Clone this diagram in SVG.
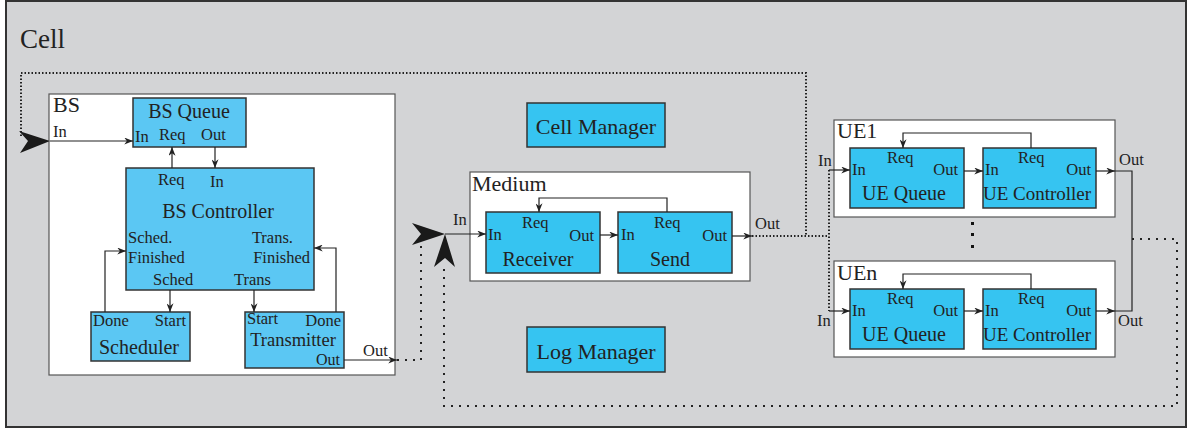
<svg xmlns="http://www.w3.org/2000/svg" width="1188" height="429" viewBox="0 0 1188 429">
<defs>
<style>
text{font-family:"Liberation Serif","Times New Roman",serif;fill:#222}
.p{font-size:16.5px}
.t{font-size:20px}
.big{font-size:22px}
.frame{fill:#fff;stroke:#555;stroke-width:1.2}
.lb{fill:#5bc7f3;stroke:#333;stroke-width:1.5}
.db{fill:#36c4f1;stroke:#333;stroke-width:1.5}
.ln{fill:none;stroke:#222;stroke-width:1.2}
.dd{fill:none;stroke:#222;stroke-width:2;stroke-dasharray:1.5 2}
.ds{fill:none;stroke:#222;stroke-width:2;stroke-dasharray:2 6}
.ah{fill:#1a1a1a}
</style>
<marker id="a" viewBox="0 0 10 8" refX="10" refY="4" markerWidth="10" markerHeight="7" orient="auto" markerUnits="userSpaceOnUse"><path d="M0,0 L10,4 L0,8 L3,4 z" fill="#222"/></marker>
</defs>
<rect x="6" y="1" width="1180" height="426" fill="#d3d4d6" stroke="#333" stroke-width="2"/>
<text x="20" y="48" style="font-size:27px">Cell</text>

<g id="BS">
<rect class="frame" x="49" y="94" width="346" height="281"/>
<text class="big" x="53" y="112">BS</text>
<text class="p" x="53" y="137">In</text>
<text class="p" x="363" y="356">Out</text>
</g>
<g id="BSQueue">
<rect class="lb" x="133" y="98" width="113" height="49"/>
<text class="t" x="189" y="118" text-anchor="middle">BS Queue</text>
<text class="p" x="135" y="142">In</text>
<text class="p" x="159" y="140">Req</text>
<text class="p" x="201" y="140">Out</text>
</g>
<g id="BSController">
<rect class="lb" x="126" y="168" width="188" height="122"/>
<text class="p" x="158" y="185">Req</text>
<text class="p" x="210" y="187">In</text>
<text class="t" x="218" y="218" text-anchor="middle">BS Controller</text>
<text class="p" x="128" y="243">Sched.</text>
<text class="p" x="128" y="263">Finished</text>
<text class="p" x="293" y="243" text-anchor="end">Trans.</text>
<text class="p" x="310" y="263" text-anchor="end">Finished</text>
<text class="p" x="153" y="285">Sched</text>
<text class="p" x="234" y="285">Trans</text>
</g>
<g id="Scheduler">
<rect class="lb" x="91" y="312" width="99" height="49"/>
<text class="p" x="93" y="326">Done</text>
<text class="p" x="186" y="326" text-anchor="end">Start</text>
<text class="t" x="139" y="354" text-anchor="middle">Scheduler</text>
</g>
<g id="Transmitter">
<rect class="lb" x="245" y="312" width="99" height="56"/>
<text class="p" x="247" y="324">Start</text>
<text class="p" x="341" y="326" text-anchor="end">Done</text>
<text class="t" x="293" y="346" text-anchor="middle" style="font-size:18.5px">Transmitter</text>
<text class="p" x="340" y="365" text-anchor="end" style="font-size:16px">Out</text>
</g>

<g id="CellManager">
<rect class="db" x="527" y="103" width="138" height="44"/>
<text class="big" x="596" y="134" text-anchor="middle">Cell Manager</text>
</g>
<g id="LogManager">
<rect class="db" x="527" y="327" width="138" height="45"/>
<text class="big" x="596" y="359" text-anchor="middle">Log Manager</text>
</g>

<g id="Medium">
<rect class="frame" x="470" y="172" width="280" height="109"/>
<text class="big" x="472" y="191">Medium</text>
<text class="p" x="453" y="225">In</text>
<text class="p" x="755" y="229">Out</text>
</g>
<g id="Receiver">
<rect class="db" x="486" y="212" width="114" height="61"/>
<text class="p" x="488" y="240">In</text>
<text class="p" x="522" y="228">Req</text>
<text class="p" x="594" y="241" text-anchor="end">Out</text>
<text class="t" x="538" y="266" text-anchor="middle">Receiver</text>
</g>
<g id="Send">
<rect class="db" x="618" y="212" width="114" height="61"/>
<text class="p" x="621" y="240">In</text>
<text class="p" x="654" y="228">Req</text>
<text class="p" x="727" y="241" text-anchor="end">Out</text>
<text class="t" x="670" y="266" text-anchor="middle">Send</text>
</g>

<g id="UE1">
<rect class="frame" x="834" y="120" width="281" height="97"/>
<text class="big" x="837" y="138">UE1</text>
<text class="p" x="818" y="166">In</text>
<text class="p" x="1119" y="165">Out</text>
</g>
<g id="UE1Queue">
<rect class="db" x="850" y="148" width="114" height="60"/>
<text class="p" x="852" y="175">In</text>
<text class="p" x="887" y="163">Req</text>
<text class="p" x="958" y="175" text-anchor="end">Out</text>
<text class="t" x="904" y="200" text-anchor="middle">UE Queue</text>
</g>
<g id="UE1Controller">
<rect class="db" x="983" y="148" width="113" height="60"/>
<text class="p" x="985" y="175">In</text>
<text class="p" x="1018" y="163">Req</text>
<text class="p" x="1091" y="175" text-anchor="end">Out</text>
<text class="t" x="1037" y="200" text-anchor="middle" style="font-size:19px">UE Controller</text>
</g>

<g id="Ellipsis">
<rect x="971" y="222" width="3" height="3" fill="#111"/>
<rect x="971" y="233" width="3" height="3" fill="#111"/>
<rect x="971" y="245" width="3" height="3" fill="#111"/>
</g>

<g id="UEn">
<rect class="frame" x="834" y="261" width="281" height="96"/>
<text class="big" x="837" y="280">UEn</text>
<text class="p" x="817" y="326">In</text>
<text class="p" x="1118" y="326">Out</text>
</g>
<g id="UEnQueue">
<rect class="db" x="850" y="289" width="114" height="60"/>
<text class="p" x="852" y="316">In</text>
<text class="p" x="887" y="304">Req</text>
<text class="p" x="958" y="316" text-anchor="end">Out</text>
<text class="t" x="904" y="341" text-anchor="middle">UE Queue</text>
</g>
<g id="UEnController">
<rect class="db" x="983" y="289" width="113" height="60"/>
<text class="p" x="985" y="316">In</text>
<text class="p" x="1018" y="304">Req</text>
<text class="p" x="1091" y="316" text-anchor="end">Out</text>
<text class="t" x="1037" y="341" text-anchor="middle" style="font-size:19px">UE Controller</text>
</g>

<g id="connectors">
<path class="dd" d="M21,136 V73 H806 V236"/>
<path class="dd" d="M752,236 H829"/>
<path class="dd" d="M829,170 V311"/>
<path class="ds" d="M397,360 H421 V245"/>
<path class="ds" d="M1132,239 H1177 V406 H444 V268"/>

<path class="ln" d="M50,141 H133" marker-end="url(#a)"/>
<path class="ln" d="M172,168 V147" marker-end="url(#a)"/>
<path class="ln" d="M215,147 V168" marker-end="url(#a)"/>
<path class="ln" d="M170,290 V312" marker-end="url(#a)"/>
<path class="ln" d="M254,290 V312" marker-end="url(#a)"/>
<path class="ln" d="M105,312 V251 H126" marker-end="url(#a)"/>
<path class="ln" d="M336,312 V248 H314" marker-end="url(#a)"/>
<path class="ln" d="M344,360 H397" marker-end="url(#a)"/>

<path class="ln" d="M445,234 H486" marker-end="url(#a)"/>
<path class="ln" d="M600,235 H618" marker-end="url(#a)"/>
<path class="ln" d="M667,212 V198 H539 V212" marker-end="url(#a)"/>
<path class="ln" d="M732,236 H752" marker-end="url(#a)"/>

<path class="ln" d="M829,170 H850" marker-end="url(#a)"/>
<path class="ln" d="M964,171 H983" marker-end="url(#a)"/>
<path class="ln" d="M1031,148 V133 H903 V148" marker-end="url(#a)"/>
<path class="ln" d="M1096,171 H1115" marker-end="url(#a)"/>
<path class="ln" d="M829,311 H850" marker-end="url(#a)"/>
<path class="ln" d="M964,311 H983" marker-end="url(#a)"/>
<path class="ln" d="M1031,289 V274 H903 V289" marker-end="url(#a)"/>
<path class="ln" d="M1096,311 H1115" marker-end="url(#a)"/>
<path class="ln" d="M1115,171 H1132 V311 H1115"/>

<polygon class="ah" points="50,141 19,131 28,141 20,153"/>
<polygon class="ah" points="445,234 412,223 421,234 412,245"/>
<polygon class="ah" points="445,234 455,267 445,258 434,267"/>
</g>
</svg>
